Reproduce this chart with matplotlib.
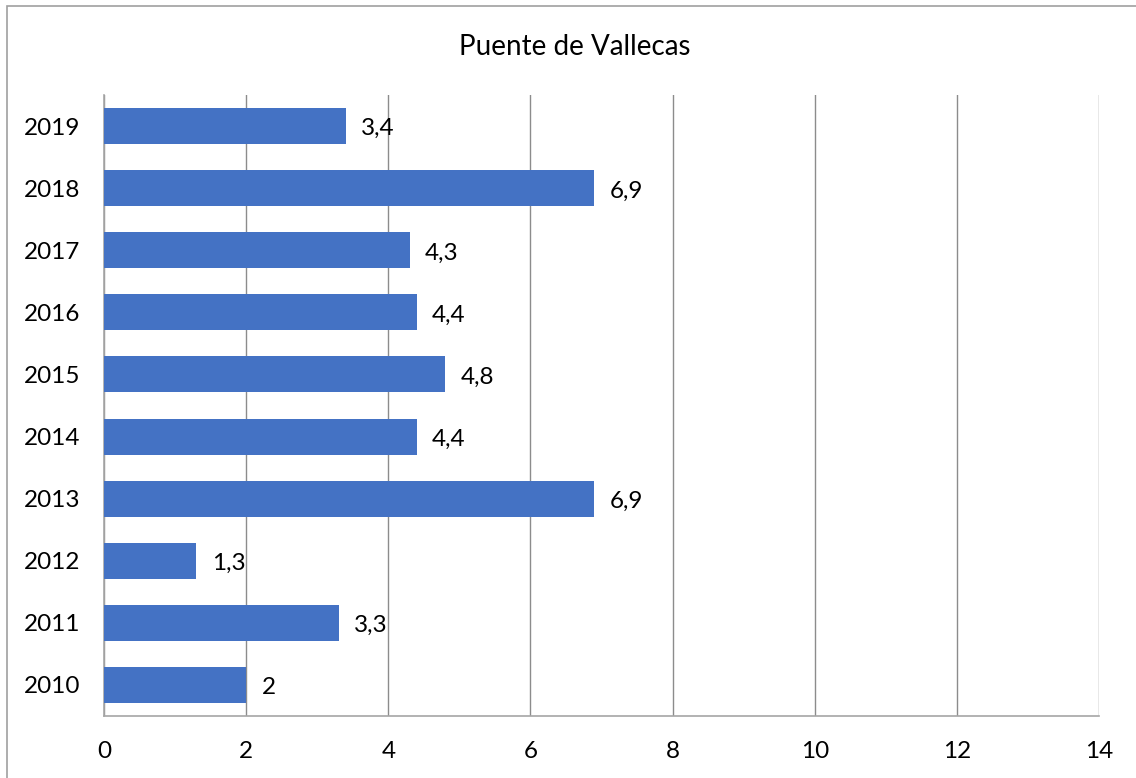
import matplotlib.pyplot as plt
from matplotlib.patches import Rectangle

years = ['2010', '2011', '2012', '2013', '2014', '2015', '2016', '2017', '2018', '2019']
values = [2, 3.3, 1.3, 6.9, 4.4, 4.8, 4.4, 4.3, 6.9, 3.4]
x_ticks = [0, 2, 4, 6, 8, 10, 12, 14]

plt.rcParams['font.family'] = ['Lato', 'DejaVu Sans']

fig = plt.figure(figsize=(11.36, 7.78), dpi=100)
ax = fig.add_axes([104 / 1136, 1 - 716 / 778, 995 / 1136, 621 / 778])

# outer chart border
fig.patches.append(Rectangle((7 / 1136, -0.01), 1.01, 1 - 6 / 778 + 0.01,
                             transform=fig.transFigure, fill=False,
                             edgecolor='#A0A0A0', linewidth=1.2))

pos = range(len(years))
ax.barh(pos, values, height=0.58, color='#4472C4', zorder=3)

for y, v in zip(pos, values):
    label = f'{v:g}'.replace('.', ',')
    ax.annotate(label, (v, y), xytext=(11, -2), textcoords='offset points',
                ha='left', va='center', fontsize=17.5, color='#000000')

ax.set_xlim(0, 14)
ax.set_ylim(-0.5, len(years) - 0.5)
ax.set_xticks(x_ticks)
ax.set_yticks(list(pos))
ax.set_yticklabels(years)
ax.tick_params(axis='both', length=0, labelsize=17.5, colors='#000000')
ax.tick_params(axis='x', pad=18)
ax.tick_params(axis='y', pad=17)

ax.xaxis.grid(True, color='#8C8C8C', linewidth=1, zorder=0)
for s in ['top', 'right']:
    ax.spines[s].set_visible(False)
ax.spines['left'].set_color('#A6A6A6')
ax.spines['bottom'].set_color('#A6A6A6')
ax.spines['left'].set_linewidth(1.2)
ax.spines['bottom'].set_linewidth(1.2)

fig.text(575 / 1136, 1 - 47 / 778, 'Puente de Vallecas', ha='center', va='center',
         fontsize=20, color='#000000')

fig.savefig('out.png', dpi=100)
